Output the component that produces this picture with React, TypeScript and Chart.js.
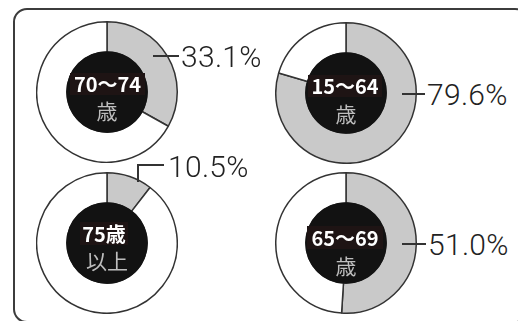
import React, { useEffect, useRef } from "react";
import { Chart, registerables } from "chart.js";

Chart.register(...registerables);

// ---- data ----
const groups = ["70〜74", "15〜64", "75歳", "65〜69"];
const subLabels = ["歳", "歳", "以上", "歳"];
const shares = [33.1, 79.6, 10.5, 51.0];
const shareLabels = ["33.1%", "79.6%", "10.5%", "51.0%"];

// ---- layout (positions only) ----
const centers = [
  { x: 107, y: 92 },
  { x: 346, y: 93 },
  { x: 107, y: 243 },
  { x: 346, y: 243 },
];
const boxes = [
  { l: 70, t: 73, w: 75, h: 22, sy: 110 },
  { l: 308, t: 75, w: 74, h: 22, sy: 113 },
  { l: 80, t: 222, w: 48, h: 23, sy: 260 },
  { l: 307, t: 226, w: 76, h: 23, sy: 265 },
];
const pctPos = [
  { x: 181, y: 57 },
  { x: 427, y: 95 },
  { x: 168, y: 167 },
  { x: 428, y: 245 },
];
const lines = [
  [{ x1: 153, y1: 56, x2: 179, y2: 56 }],
  [{ x1: 402, y1: 94, x2: 425, y2: 94 }],
  [
    { x1: 137, y1: 165, x2: 137, y2: 183 },
    { x1: 137, y1: 165, x2: 164, y2: 165 },
  ],
  [{ x1: 402, y1: 244, x2: 426, y2: 244 }],
];

const SIZE = 142;

const holePlugin = {
  id: "hole",
  afterDatasetsDraw(chart: any) {
    const arc = chart.getDatasetMeta(0).data[0] as any;
    if (!arc) return;
    const ctx = chart.ctx;
    ctx.save();
    ctx.beginPath();
    ctx.arc(arc.x, arc.y, arc.innerRadius + 0.8, 0, Math.PI * 2);
    ctx.fillStyle = "#121212";
    ctx.fill();
    ctx.restore();
  },
};

function Donut({ i }: { i: number }) {
  const ref = useRef<HTMLCanvasElement | null>(null);
  useEffect(() => {
    if (!ref.current) return;
    const chart = new Chart(ref.current, {
      type: "doughnut",
      data: {
        labels: [groups[i], ""],
        datasets: [
          {
            data: [shares[i], 100 - shares[i]],
            backgroundColor: ["#c9c9c9", "#ffffff"],
            borderColor: "#333333",
            borderWidth: 1.5,
            hoverOffset: 0,
          },
        ],
      },
      options: {
        responsive: false,
        animation: false,
        cutout: "57%",
        layout: { padding: 0 },
        plugins: {
          legend: { display: false },
          tooltip: { enabled: false },
          title: { display: false },
        },
        events: [],
      },
      plugins: [holePlugin],
    });
    return () => chart.destroy();
  }, [i]);
  const c = centers[i];
  return (
    <canvas
      ref={ref}
      width={SIZE}
      height={SIZE}
      style={{
        position: "absolute",
        left: c.x - SIZE / 2,
        top: c.y - SIZE / 2,
        width: SIZE,
        height: SIZE,
      }}
    />
  );
}

export default function App() {
  return (
    <div
      style={{
        position: "absolute",
        left: 0,
        top: 0,
        width: 518,
        height: 321,
        overflow: "hidden",
        background: "#ffffff",
      }}
    >
      <div
        style={{
          position: "absolute",
          left: 13,
          top: 8,
          width: 516,
          height: 315,
          border: "2px solid #3c3c3c",
          borderRadius: 14,
          boxSizing: "border-box",
        }}
      />
      {groups.map((_, i) => (
        <Donut key={i} i={i} />
      ))}
      {lines.map((segs, i) =>
        segs.map((s, j) => (
          <div
            key={`l${i}-${j}`}
            style={{
              position: "absolute",
              left: Math.min(s.x1, s.x2),
              top: Math.min(s.y1, s.y2) - 1,
              width: Math.max(1.5, Math.abs(s.x2 - s.x1)),
              height: Math.max(1.5, Math.abs(s.y2 - s.y1)),
              background: "#333",
            }}
          />
        ))
      )}
      {shareLabels.map((t, i) => (
        <div
          key={`p${i}`}
          style={{
            position: "absolute",
            left: pctPos[i].x,
            top: pctPos[i].y - 18,
            height: 36,
            lineHeight: "36px",
            fontFamily: "Roboto, 'Noto Sans', sans-serif",
            fontWeight: 300,
            fontSize: 30,
            color: "#222",
            whiteSpace: "nowrap",
            letterSpacing: 0.3,
          }}
        >
          {t}
        </div>
      ))}
      {groups.map((g, i) => (
        <React.Fragment key={`c${i}`}>
          <div
            style={{
              position: "absolute",
              left: boxes[i].l,
              top: boxes[i].t,
              width: boxes[i].w,
              height: boxes[i].h,
              background: "#1e1414",
              color: "#ffffff",
              fontFamily: "'Noto Sans CJK JP', sans-serif",
              fontWeight: 700,
              fontSize: 20,
              lineHeight: `${boxes[i].h}px`,
              textAlign: "center",
              whiteSpace: "nowrap",
            }}
          >
            {g}
          </div>
          <div
            style={{
              position: "absolute",
              left: centers[i].x - 40,
              top: boxes[i].sy - 13,
              width: 80,
              height: 26,
              lineHeight: "26px",
              textAlign: "center",
              color: "#bdbdbd",
              fontFamily: "'Noto Sans CJK JP', sans-serif",
              fontWeight: 400,
              fontSize: 21,
              whiteSpace: "nowrap",
            }}
          >
            {subLabels[i]}
          </div>
        </React.Fragment>
      ))}
    </div>
  );
}
